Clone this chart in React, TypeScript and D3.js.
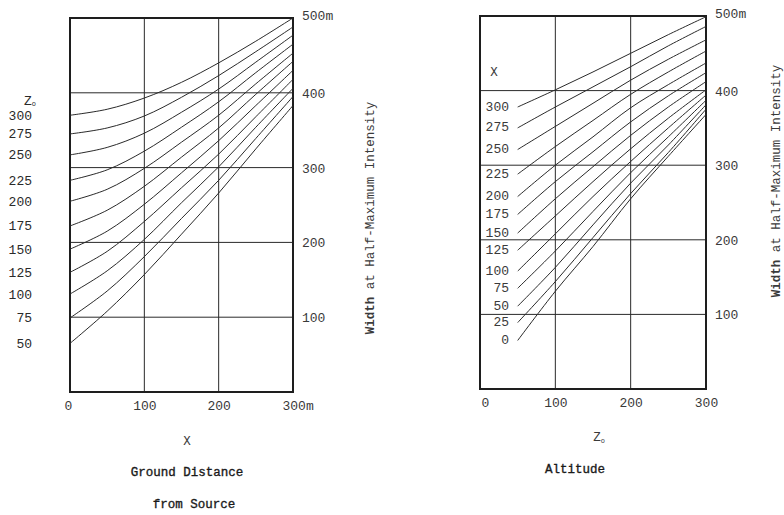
import React, { useEffect, useRef } from 'react';
import * as d3 from 'd3';

// left panel: width vs ground distance X, one curve per altitude Zo
const groundDistance = [0, 50, 100, 150, 200, 250, 300];
const altitudeLevels = [300, 275, 250, 225, 200, 175, 150, 125, 100, 75, 50];
const widthByAltitude = [
  [370, 378, 393, 414, 440, 469, 500],
  [345, 353, 369, 394, 423, 455, 488],
  [317, 327, 346, 374, 405, 441, 477],
  [283, 297, 322, 354, 388, 427, 465],
  [255, 271, 299, 334, 370, 412, 453],
  [222, 243, 275, 314, 353, 398, 442],
  [191, 215, 251, 293, 336, 383, 430],
  [160, 188, 228, 273, 318, 368, 418],
  [131, 162, 204, 253, 301, 354, 406],
  [99, 135, 181, 232, 283, 339, 395],
  [65, 108, 157, 211, 266, 325, 383],
];

// right panel: width vs altitude Zo, one curve per ground distance X
const altitudeSteps = [50, 100, 150, 200, 250, 300];
const distanceLevels = [300, 275, 250, 225, 200, 175, 150, 125, 100, 75, 50, 25, 0];
const widthByDistance = [
  [378, 401, 425, 450, 475, 499],
  [350, 378, 405, 432, 460, 486],
  [321, 352, 383, 414, 442, 468],
  [288, 325, 360, 395, 425, 453],
  [258, 300, 338, 377, 408, 437],
  [234, 278, 318, 358, 393, 424],
  [209, 255, 298, 340, 378, 412],
  [186, 232, 278, 322, 363, 401],
  [158, 208, 258, 305, 350, 394],
  [135, 185, 238, 290, 338, 387],
  [111, 163, 220, 276, 327, 381],
  [89, 144, 203, 262, 317, 375],
  [65, 131, 191, 255, 312, 368],
];

const xTicks = [0, 100, 200, 300];
const widthTicks = [100, 200, 300, 400, 500];
const yTitle = 'Width at Half-Maximum Intensity';

const FONT = '"Liberation Mono", "DejaVu Sans Mono", monospace';
const INK = '#2a2a2a';
const TEXT = '#3a3a3a';

function drawPanel(svg, opts) {
  const x = d3.scaleLinear().domain([0, 300]).range([opts.left, opts.right]);
  const y = d3.scaleLinear().domain([0, 500]).range([opts.bottom, opts.top]);
  const g = svg.append('g');

  // grid
  g.selectAll('.vgrid')
    .data(xTicks.filter((d) => d > 0 && d < 300))
    .enter().append('line')
    .attr('x1', (d) => x(d)).attr('x2', (d) => x(d))
    .attr('y1', y(0)).attr('y2', y(500))
    .attr('stroke', INK).attr('stroke-width', 1);
  g.selectAll('.hgrid')
    .data(widthTicks.filter((d) => d < 500))
    .enter().append('line')
    .attr('x1', x(0)).attr('x2', x(300))
    .attr('y1', (d) => y(d)).attr('y2', (d) => y(d))
    .attr('stroke', INK).attr('stroke-width', 1);

  g.append('rect')
    .attr('x', x(0)).attr('y', y(500))
    .attr('width', x(300) - x(0)).attr('height', y(0) - y(500))
    .attr('fill', 'none').attr('stroke', '#1e1e1e').attr('stroke-width', 2);

  // curves
  const line = d3.line()
    .x((d) => x(d[0]))
    .y((d) => y(d[1]))
    .curve(d3.curveCatmullRom.alpha(0.5));
  opts.series.forEach((vals) => {
    g.append('path')
      .attr('d', line(opts.xs.map((v, i) => [v, vals[i]])))
      .attr('fill', 'none')
      .attr('stroke', INK)
      .attr('stroke-width', 1);
  });

  // right axis labels
  const ya = g.append('g')
    .attr('transform', 'translate(' + (x(300) + 9) + ',0)')
    .call(d3.axisRight(y).tickValues(widthTicks).tickSize(0)
      .tickFormat((d) => (d === 500 ? '500m' : String(d))));
  ya.select('.domain').remove();
  ya.selectAll('text')
    .attr('x', 0).attr('dy', '0.35em')
    .style('font-family', FONT).style('font-size', '13px').attr('fill', TEXT);
  ya.selectAll('.tick').filter((d) => d === 500)
    .select('text').attr('dy', '0.1em');

  // bottom axis labels
  const xa = g.append('g')
    .attr('transform', 'translate(0,' + (y(0) + 9) + ')')
    .call(d3.axisBottom(x).tickValues(xTicks).tickSize(0)
      .tickFormat((d) => (d === 300 && opts.meter ? '300m' : String(d))));
  xa.select('.domain').remove();
  xa.selectAll('text')
    .attr('y', 0).attr('dy', '0.71em')
    .style('font-family', FONT).style('font-size', '13px').attr('fill', TEXT);
  if (opts.meter) {
    xa.selectAll('.tick').filter((d) => d === 300)
      .select('text').attr('text-anchor', 'start').attr('x', -11);
  }
  xa.selectAll('.tick').filter((d) => d === 0)
    .select('text').attr('x', opts.zeroShift);

  // rotated y title
  const t = svg.append('text')
    .attr('transform', 'translate(' + opts.titleX + ',' + opts.titleY + ') rotate(-90)')
    .attr('text-anchor', 'middle')
    .attr('dy', '0.35em')
    .style('font-family', FONT).style('font-size', '12.5px')
    .attr('fill', TEXT);
  t.append('tspan').attr('font-weight', 'bold').text(yTitle.split(' ')[0]);
  t.append('tspan').text(' ' + yTitle.split(' ').slice(1).join(' '));

  return { x, y, g };
}

function caption(svg, x, y, text) {
  return svg.append('text')
    .attr('x', x).attr('y', y).attr('dy', '0.35em')
    .attr('text-anchor', 'middle')
    .style('font-family', FONT).style('font-size', '12.5px')
    .attr('fill', '#1a1a1a')
    .attr('stroke', '#1a1a1a').attr('stroke-width', 0.35)
    .text(text);
}

export default function App() {
  const ref = useRef(null);

  useEffect(() => {
    const svg = d3.select(ref.current);
    svg.selectAll('*').remove();

    // ---- left panel
    const L = drawPanel(svg, {
      left: 70, right: 293, top: 18, bottom: 392,
      xs: groundDistance, series: widthByAltitude, meter: true,
      titleX: 370, titleY: 218, zeroShift: -2,
    });
    svg.selectAll('.zlab')
      .data(altitudeLevels)
      .enter().append('text')
      .attr('x', 32)
      .attr('y', (d, i) => L.y(widthByAltitude[i][0]))
      .attr('dy', '0.35em')
      .attr('text-anchor', 'end')
      .style('font-family', FONT).style('font-size', '13px')
      .attr('fill', INK)
      .text((d) => d);
    const zHead = svg.append('text')
      .attr('x', 24).attr('y', 100).attr('dy', '0.35em')
      .style('font-family', FONT).style('font-size', '13px').attr('fill', INK);
    zHead.append('tspan').text('Z');
    zHead.append('tspan').attr('font-size', '7px').attr('dy', '1').text('o');

    svg.append('text').attr('x', 187).attr('y', 441).attr('dy', '0.35em')
      .attr('text-anchor', 'middle')
      .style('font-family', FONT).style('font-size', '12.5px').attr('fill', TEXT)
      .text('X');
    caption(svg, 187, 472, 'Ground Distance');
    caption(svg, 194, 504, 'from Source');

    // ---- right panel
    const R = drawPanel(svg, {
      left: 480, right: 706, top: 16, bottom: 389,
      xs: altitudeSteps, series: widthByDistance, meter: false,
      titleX: 776, titleY: 181, zeroShift: 5,
    });
    svg.selectAll('.xlab')
      .data(distanceLevels)
      .enter().append('text')
      .attr('x', 509)
      .attr('y', (d, i) => R.y(widthByDistance[i][0]) - 1)
      .attr('dy', '0.35em')
      .attr('text-anchor', 'end')
      .style('font-family', FONT).style('font-size', '13px')
      .attr('fill', TEXT)
      .text((d) => d);
    svg.append('text').attr('x', 494).attr('y', 72).attr('dy', '0.35em')
      .attr('text-anchor', 'middle')
      .style('font-family', FONT).style('font-size', '12.5px').attr('fill', TEXT)
      .text('X');

    const zo = svg.append('text').attr('x', 599).attr('y', 437).attr('dy', '0.35em')
      .attr('text-anchor', 'middle')
      .style('font-family', FONT).style('font-size', '12.5px').attr('fill', TEXT);
    zo.append('tspan').text('Z');
    zo.append('tspan').attr('font-size', '7px').attr('dy', '2').text('o');
    caption(svg, 575, 469, 'Altitude');
  }, []);

  return (
    <svg
      ref={ref}
      width={784}
      height={515}
      style={{ position: 'absolute', left: 0, top: 0, background: '#fff' }}
    />
  );
}
